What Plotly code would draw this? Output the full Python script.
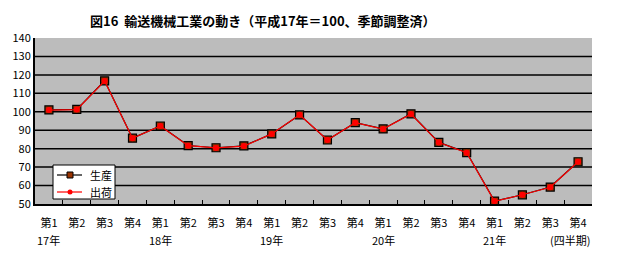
import plotly.graph_objects as go

quarters = ["第1", "第2", "第3", "第4"] * 5
years = ["17年", "18年", "19年", "20年", "21年"]
production = [101.0, 101.3, 116.8, 85.7, 92.3, 81.7, 80.5, 81.5, 88.0, 98.3,
              84.7, 94.1, 90.7, 98.9, 83.4, 77.9, 51.6, 55.0, 59.2, 72.9]
shipment = [100.9, 101.2, 116.7, 85.6, 92.3, 81.6, 80.4, 81.4, 88.0, 98.4,
            84.7, 94.1, 90.6, 98.8, 83.3, 77.8, 51.5, 55.0, 59.1, 72.9]
y_ticks = [50, 60, 70, 80, 90, 100, 110, 120, 130, 140]

FONT = "Noto Sans CJK JP"
x = list(range(len(quarters)))

PROD_LINE = "black"
PROD_FILL = "#993300"
SHIP = "#ff0000"

fig = go.Figure()
fig.add_trace(go.Scatter(
    x=x, y=production, name="生産", mode="lines+markers",
    line=dict(color=PROD_LINE, width=1.2),
    marker=dict(symbol="square", size=8, color=PROD_FILL,
                line=dict(color="black", width=1.2)),
))
fig.add_trace(go.Scatter(
    x=x, y=shipment, name="出荷", mode="lines+markers",
    line=dict(color=SHIP, width=1.2),
    marker=dict(symbol="circle", size=6, color=SHIP,
                line=dict(width=0)),
))

fig.update_layout(
    width=625, height=275,
    margin=dict(l=35, r=33, t=38, b=71),
    paper_bgcolor="white",
    plot_bgcolor="#bcbcbc",
    font=dict(family=FONT, size=11, color="black"),
    showlegend=False,
)
fig.update_xaxes(
    range=[-0.5, len(quarters) - 0.5],
    tickmode="array", tickvals=x, ticktext=quarters,
    ticks="", showgrid=False, zeroline=False,
    showline=True, linecolor="black", linewidth=2,
    ticklabelstandoff=8,
    tickfont=dict(size=11),
    minor=dict(tickmode="array",
               tickvals=[i + 0.5 for i in range(len(quarters) - 1)],
               ticks="inside", ticklen=4, tickcolor="black", tickwidth=1,
               showgrid=False),
)
fig.update_yaxes(
    range=[y_ticks[0], y_ticks[-1]], tickmode="array", tickvals=y_ticks,
    showgrid=False, zeroline=False,
    showline=True, linecolor="black", linewidth=2,
    ticks="", tickfont=dict(size=11),
)

# horizontal grid lines (not at the top edge, as in the reference)
for v in y_ticks[1:-1]:
    fig.add_shape(type="line", xref="paper", yref="y", x0=0, x1=1, y0=v, y1=v,
                  line=dict(color="black", width=1.5), layer="below")

for i, yl in enumerate(years):
    fig.add_annotation(x=i * 4, y=0, xref="x", yref="paper", yshift=-36,
                       yanchor="middle", text=yl, showarrow=False,
                       font=dict(size=11))
fig.add_annotation(x=1.0, y=0, xref="paper", yref="paper", yshift=-36,
                   xanchor="right", yanchor="middle", text="(四半期)",
                   showarrow=False, font=dict(size=11))
fig.add_annotation(x=(88 - 35) / 557, y=1, xref="paper", yref="paper",
                   yshift=18, xanchor="left", yanchor="middle",
                   text="<b>図16  輸送機械工業の動き（平成17年＝100、季節調整済）</b>",
                   showarrow=False, font=dict(size=13))

# custom legend box (pixel positions converted to paper coords)
W, H, L, T = 557, 166, 35, 38
def px(xp):
    return (xp - L) / W
def py(yp):
    return 1 - (yp - T) / H

fig.add_shape(type="rect", xref="paper", yref="paper",
              x0=px(53), x1=px(115), y0=py(165), y1=py(199),
              fillcolor="white", line=dict(color="black", width=1))
legend_items = [("生産", 175, PROD_LINE), ("出荷", 192, SHIP)]
for name, yp, col in legend_items:
    fig.add_shape(type="line", xref="paper", yref="paper",
                  x0=px(57), x1=px(82), y0=py(yp), y1=py(yp),
                  line=dict(color=col, width=1.2))
    fig.add_annotation(x=px(88), y=py(yp), xref="paper", yref="paper",
                       xanchor="left", yanchor="middle", text=name,
                       showarrow=False, font=dict(size=11))
# legend markers
fig.add_shape(type="rect", xref="paper", yref="paper",
              x0=px(67), x1=px(73), y0=py(172), y1=py(178),
              fillcolor=PROD_FILL, line=dict(color="black", width=1))
fig.add_shape(type="circle", xref="paper", yref="paper",
              x0=px(67.5), x1=px(72.5), y0=py(189.5), y1=py(194.5),
              fillcolor=SHIP, line=dict(color=SHIP, width=0))

fig.write_html("out.html")
